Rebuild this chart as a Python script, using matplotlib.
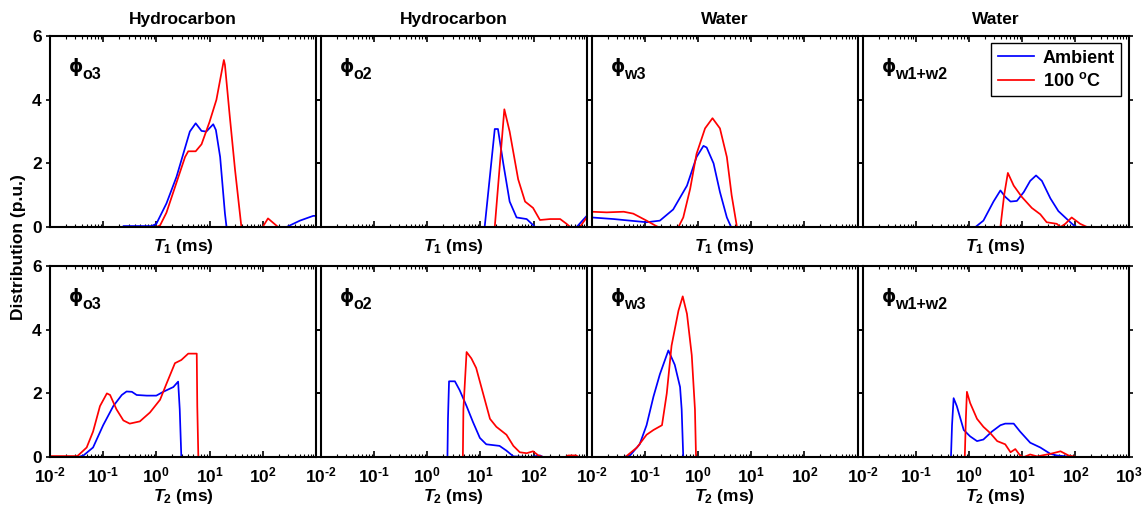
import matplotlib
matplotlib.use("Agg")
import numpy as np
import matplotlib.pyplot as plt
from matplotlib.ticker import FixedLocator, FuncFormatter, LogLocator, NullFormatter

plt.rcParams.update({
    "font.family": "Liberation Sans",
    "font.weight": "bold",
    "axes.labelweight": "bold",
    "mathtext.fontset": "custom",
    "mathtext.rm": "Liberation Sans:bold",
    "mathtext.it": "Liberation Sans:italic:bold",
    "mathtext.bf": "Liberation Sans:bold",
    "mathtext.bfit": "Liberation Sans:italic:bold",
    "axes.linewidth": 1.5,
})

# ---------------------------------------------------------------
# data: log10(T / ms) and distribution (p.u.)
# ---------------------------------------------------------------
column_titles = ["Hydrocarbon", "Hydrocarbon", "Water", "Water"]
phase_labels = ["o3", "o2", "w3", "w1+w2"]
series_names = ["Ambient", "100 $^\\mathbf{o}$C"]

# T1, phi_o3
t1_o3_amb_x = [-2, -0.62, -0.62, -0.09, 0.0, 0.19, 0.38, 0.63, 0.74, 0.85, 0.94, 1.07, 1.12, 1.2, 1.29, 1.32, 2.45, 2.7, 2.95, 3.0]
t1_o3_amb_y = [0, 0, 0.03, 0.03, 0.1, 0.74, 1.58, 3.0, 3.26, 3.02, 3.0, 3.23, 3.05, 2.2, 0.43, 0, 0, 0.2, 0.35, 0.35]
t1_o3_hot_x = [-2, 0.0, 0.07, 0.19, 0.38, 0.54, 0.6, 0.74, 0.85, 1.0, 1.13, 1.27, 1.29, 1.38, 1.48, 1.6, 2.0, 2.1, 2.29, 3.0]
t1_o3_hot_y = [0, 0, 0.05, 0.45, 1.4, 2.2, 2.38, 2.38, 2.6, 3.3, 4.0, 5.25, 5.1, 3.5, 1.8, 0, 0, 0.27, 0, 0]

# T1, phi_o2
t1_o2_amb_x = [-2, 1.08, 1.27, 1.33, 1.43, 1.55, 1.68, 1.87, 2.03, 2.81, 3.0]
t1_o2_amb_y = [0, 0, 3.08, 3.08, 2.0, 0.8, 0.3, 0.25, 0, 0, 0.35]
t1_o2_hot_x = [-2, 1.27, 1.45, 1.55, 1.71, 1.84, 1.99, 2.12, 2.31, 2.5, 2.62, 2.69, 2.87, 3.0]
t1_o2_hot_y = [0, 0, 3.7, 3.0, 1.5, 0.8, 0.6, 0.22, 0.25, 0.25, 0.1, 0, 0, 0.3]

# T1, phi_w3
t1_w3_amb_x = [-2, -1.59, -0.97, -0.72, -0.47, -0.21, -0.03, 0.1, 0.16, 0.29, 0.41, 0.54, 0.62, 3.0]
t1_w3_amb_y = [0.3, 0.25, 0.15, 0.2, 0.55, 1.3, 2.2, 2.55, 2.5, 2.0, 1.1, 0.3, 0, 0]
t1_w3_hot_x = [-2, -1.72, -1.4, -1.22, -0.97, -0.81, -0.75, -0.37, -0.28, -0.15, -0.03, 0.13, 0.27, 0.41, 0.54, 0.63, 0.73, 3.0]
t1_w3_hot_y = [0.48, 0.46, 0.48, 0.42, 0.2, 0.05, 0, 0, 0.3, 1.2, 2.3, 3.1, 3.42, 3.1, 2.2, 1.0, 0, 0]

# T1, phi_w1+w2
t1_w12_amb_x = [-2, 0.12, 0.27, 0.46, 0.59, 0.68, 0.78, 0.9, 1.03, 1.15, 1.26, 1.37, 1.53, 1.68, 1.84, 1.97, 2.03, 3.0]
t1_w12_amb_y = [0, 0, 0.2, 0.8, 1.15, 0.95, 0.8, 0.82, 1.1, 1.45, 1.62, 1.45, 0.9, 0.5, 0.25, 0.05, 0, 0]
t1_w12_hot_x = [-2, 0.59, 0.66, 0.73, 0.84, 0.99, 1.18, 1.34, 1.46, 1.65, 1.72, 1.81, 1.93, 2.09, 2.22, 3.0]
t1_w12_hot_y = [0, 0, 1.0, 1.7, 1.3, 0.95, 0.6, 0.4, 0.15, 0.1, 0, 0.1, 0.3, 0.1, 0, 0]

# T2, phi_o3
t2_o3_amb_x = [-2, -1.47, -1.37, -1.19, -1.0, -0.81, -0.65, -0.56, -0.46, -0.37, -0.18, 0.0, 0.13, 0.32, 0.41, 0.44, 0.47, 3.0]
t2_o3_amb_y = [0, 0, 0.05, 0.3, 1.0, 1.6, 1.95, 2.06, 2.05, 1.95, 1.93, 1.93, 2.05, 2.2, 2.37, 1.5, 0, 0]
t2_o3_hot_x = [-2, -1.5, -1.47, -1.31, -1.19, -1.06, -0.93, -0.87, -0.75, -0.62, -0.5, -0.31, -0.12, 0.07, 0.19, 0.35, 0.47, 0.6, 0.76, 0.77, 0.79, 3.0]
t2_o3_hot_y = [0.03, 0.03, 0.05, 0.3, 0.8, 1.6, 2.0, 1.95, 1.5, 1.15, 1.05, 1.12, 1.4, 1.8, 2.3, 2.95, 3.05, 3.25, 3.25, 1.6, 0, 0]

# T2, phi_o2
t2_o2_amb_x = [-2, 0.38, 0.39, 0.41, 0.52, 0.61, 0.74, 0.86, 0.99, 1.11, 1.36, 1.49, 1.62, 1.93, 2.12, 2.18, 3.0]
t2_o2_amb_y = [0, 0, 1.2, 2.38, 2.38, 2.1, 1.6, 1.1, 0.6, 0.4, 0.35, 0.2, 0.02, 0, 0.05, 0, 0]
t2_o2_hot_x = [-2, 0.67, 0.68, 0.74, 0.83, 0.92, 1.05, 1.18, 1.3, 1.49, 1.62, 1.74, 1.87, 1.99, 2.09, 2.18, 2.6, 2.65, 2.8, 2.85, 3.0]
t2_o2_hot_y = [0, 0, 1.5, 3.3, 3.1, 2.8, 2.0, 1.2, 0.95, 0.7, 0.35, 0.15, 0.12, 0.18, 0.05, 0, 0, 0.05, 0.05, 0, 0]

# T2, phi_w3
t2_w3_amb_x = [-2, -1.4, -1.28, -1.1, -0.97, -0.84, -0.72, -0.56, -0.44, -0.34, -0.31, -0.28, 3.0]
t2_w3_amb_y = [0, 0, 0.05, 0.4, 1.0, 1.9, 2.6, 3.35, 2.9, 2.2, 1.5, 0, 0]
t2_w3_hot_x = [-2, -1.37, -1.15, -0.97, -0.84, -0.68, -0.59, -0.5, -0.37, -0.29, -0.21, -0.12, -0.06, -0.04, 3.0]
t2_w3_hot_y = [0, 0, 0.3, 0.7, 0.85, 1.0, 2.0, 3.5, 4.6, 5.05, 4.5, 3.2, 1.5, 0, 0]

# T2, phi_w1+w2
t2_w12_amb_x = [-2, -0.34, -0.32, -0.29, -0.23, -0.1, 0.02, 0.15, 0.27, 0.43, 0.59, 0.68, 0.84, 0.96, 1.15, 1.34, 1.53, 1.65, 1.97, 3.0]
t2_w12_amb_y = [0, 0, 1.0, 1.85, 1.6, 0.85, 0.65, 0.5, 0.55, 0.8, 1.0, 1.05, 1.05, 0.8, 0.45, 0.3, 0.1, 0.05, 0, 0]
t2_w12_hot_x = [-2, -0.08, -0.06, -0.04, 0.02, 0.15, 0.27, 0.4, 0.53, 0.68, 0.78, 0.87, 0.96, 1.03, 1.15, 1.28, 1.53, 1.72, 1.87, 2.03, 3.0]
t2_w12_hot_y = [0, 0, 1.2, 2.05, 1.7, 1.2, 0.95, 0.75, 0.5, 0.4, 0.15, 0.25, 0.05, 0, 0.08, 0.02, 0.1, 0.18, 0.05, 0, 0]

panels = [
    [(t1_o3_amb_x, t1_o3_amb_y, t1_o3_hot_x, t1_o3_hot_y),
     (t1_o2_amb_x, t1_o2_amb_y, t1_o2_hot_x, t1_o2_hot_y),
     (t1_w3_amb_x, t1_w3_amb_y, t1_w3_hot_x, t1_w3_hot_y),
     (t1_w12_amb_x, t1_w12_amb_y, t1_w12_hot_x, t1_w12_hot_y)],
    [(t2_o3_amb_x, t2_o3_amb_y, t2_o3_hot_x, t2_o3_hot_y),
     (t2_o2_amb_x, t2_o2_amb_y, t2_o2_hot_x, t2_o2_hot_y),
     (t2_w3_amb_x, t2_w3_amb_y, t2_w3_hot_x, t2_w3_hot_y),
     (t2_w12_amb_x, t2_w12_amb_y, t2_w12_hot_x, t2_w12_hot_y)],
]
row_xlabels = [r"$\mathbfit{T}_{\mathbf{1}}$ (ms)", r"$\mathbfit{T}_{\mathbf{2}}$ (ms)"]


def _pow10(v, pos):
    # plain hyphen in the exponent, like the original
    e = round(np.log10(v))
    return r"$\mathbf{10^{%s}}$" % (str(e).replace("-", "\u2010"))


fig, axes = plt.subplots(2, 4, figsize=(11.44, 5.16), dpi=100)
fig.subplots_adjust(left=0.0437, right=0.9865, top=0.930, bottom=0.1143,
                    wspace=0.019, hspace=0.205)

for r in range(2):
    for c in range(4):
        ax = axes[r, c]
        amb_x, amb_y, hot_x, hot_y = panels[r][c]
        ax.plot(10.0 ** np.array(amb_x), amb_y, color="#0000ff", lw=1.25, label=series_names[0])
        ax.plot(10.0 ** np.array(hot_x), hot_y, color="#ff0000", lw=1.25, label=series_names[1])

        ax.set_xscale("log")
        ax.set_xlim(1e-2, 1e3)
        ax.set_ylim(0, 6)
        ax.set_yticks([0, 2, 4, 6])

        ax.xaxis.set_major_locator(FixedLocator([1e-2, 1e-1, 1e0, 1e1, 1e2, 1e3]))
        ax.xaxis.set_minor_locator(LogLocator(base=10, subs=np.arange(2, 10), numticks=20))
        ax.xaxis.set_minor_formatter(NullFormatter())
        ax.tick_params(axis="x", which="both", direction="in", top=True, bottom=True,
                       labelsize=12.5, pad=6)
        ax.tick_params(axis="x", which="major", length=4, width=1.2)
        ax.tick_params(axis="x", which="minor", length=2, width=0.8)
        ax.tick_params(axis="y", which="major", direction="out", left=True, right=True,
                       length=3, width=1.2, labelsize=12.5, pad=3)

        if r == 0:
            ax.xaxis.set_major_formatter(NullFormatter())
        else:
            if c < 3:
                ax.xaxis.set_major_locator(FixedLocator([1e-2, 1e-1, 1e0, 1e1, 1e2]))
            ax.xaxis.set_major_formatter(FuncFormatter(_pow10))
        if c > 0:
            ax.set_yticklabels([])

        ax.set_xlabel(row_xlabels[r], fontsize=12.5, fontweight="bold", labelpad=1)
        if r == 0:
            ax.set_title(column_titles[c], fontsize=12.5, fontweight="bold", pad=9)

        ax.text(0.098, 0.838, "\u03d5", transform=ax.transAxes, fontsize=13,
                family=["DejaVu Sans"], ha="center", va="center")
        ax.text(0.123, 0.80, phase_labels[c], transform=ax.transAxes,
                fontsize=11.5, ha="left", va="center")

leg = axes[0, 3].legend(loc="upper right", fontsize=13, handlelength=2.0,
                        handletextpad=0.5, fancybox=False, edgecolor="black",
                        framealpha=1, borderaxespad=0.4, borderpad=0.35,
                        labelspacing=0.3)
leg.get_frame().set_linewidth(1.0)

fig.text(0.016, 0.522, "Distribution (p.u.)", rotation=90, ha="center", va="center",
         fontsize=12.5, fontweight="bold")

fig.savefig("out.png", dpi=100)
